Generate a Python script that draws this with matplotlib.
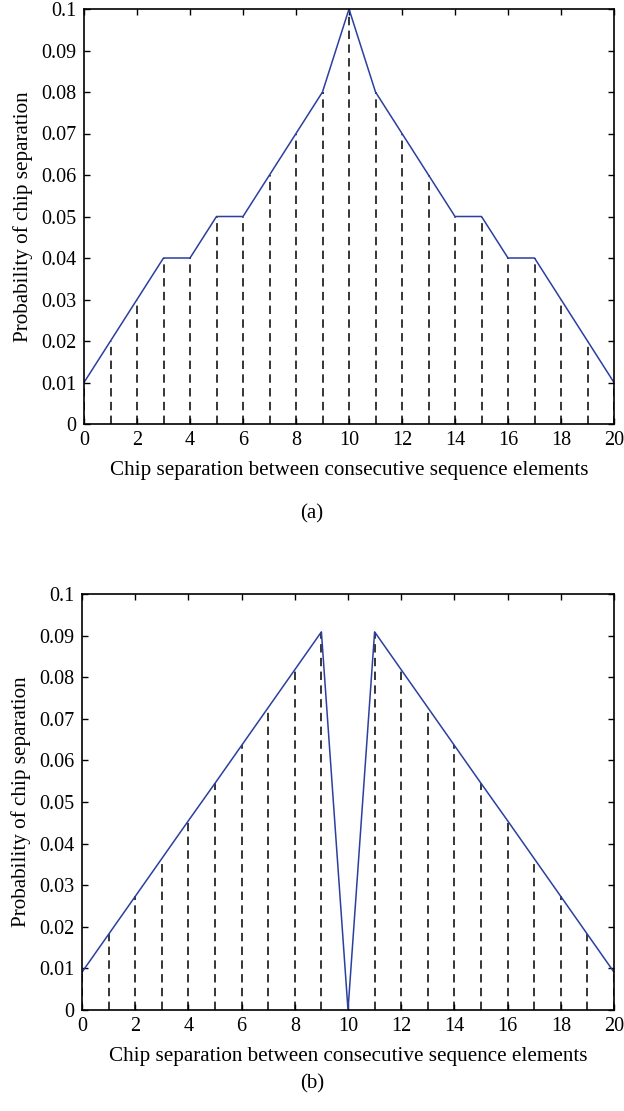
import matplotlib
matplotlib.use("Agg")
import matplotlib.pyplot as plt
import numpy as np

x_sep = list(range(0, 21))
prob_a = [0.01, 0.02, 0.03, 0.04, 0.04, 0.05, 0.05, 0.06, 0.07, 0.08, 0.10,
          0.08, 0.07, 0.06, 0.05, 0.05, 0.04, 0.04, 0.03, 0.02, 0.01]
prob_b = [0.0091, 0.0182, 0.0273, 0.0364, 0.0455, 0.0545, 0.0636, 0.0727, 0.0818, 0.0909, 0.0,
          0.0909, 0.0818, 0.0727, 0.0636, 0.0545, 0.0455, 0.0364, 0.0273, 0.0182, 0.0091]
xticks = [0, 2, 4, 6, 8, 10, 12, 14, 16, 18, 20]
yticks = [0, 0.01, 0.02, 0.03, 0.04, 0.05, 0.06, 0.07, 0.08, 0.09, 0.1]
ytick_labels = ["0", "0.01", "0.02", "0.03", "0.04", "0.05", "0.06", "0.07", "0.08", "0.09", "0.1"]
xlabel = "Chip separation between consecutive sequence elements"
ylabel = "Probability of chip separation"
captions = ["(a)", "(b)"]

plt.rcParams['font.family'] = ['Liberation Serif', 'DejaVu Serif']
W, H = 624, 1111
fig = plt.figure(figsize=(W / 100, H / 100), dpi=100)

boxes = [(84, 9, 614, 424), (82, 594, 614, 1010)]
cap_pos = [(312, 514), (312, 1084)]
for i, (data, box) in enumerate(zip([prob_a, prob_b], boxes)):
    l, t, r, b = box
    ax = fig.add_axes([l / W, 1 - b / H, (r - l) / W, (b - t) / H])
    ax.vlines(x_sep, 0, data, colors='black', linestyles=(0, (5.5, 3.5)), linewidth=1.1)
    ax.plot(x_sep, data, color='#2b3fa0', linewidth=1.1)
    ax.set_xlim(0, 20)
    ax.set_ylim(0, 0.1)
    ax.set_xticks(xticks)
    ax.set_yticks(yticks)
    ax.set_yticklabels(ytick_labels)
    ax.tick_params(direction='in', top=True, right=True, labelsize=14.5, length=4, width=1)
    ax.tick_params(axis='x', pad=5)
    ax.tick_params(axis='y', pad=5.5)
    for s in ax.spines.values():
        s.set_linewidth(1.2)
    ax.set_xlabel(xlabel, fontsize=15.2, labelpad=8)
    ax.set_ylabel(ylabel, fontsize=15.2, labelpad=6)
    cx, cy = cap_pos[i]
    fig.text(cx / W, 1 - cy / H, captions[i], fontsize=15, ha='center', va='center')

fig.savefig("out.png", dpi=100)
